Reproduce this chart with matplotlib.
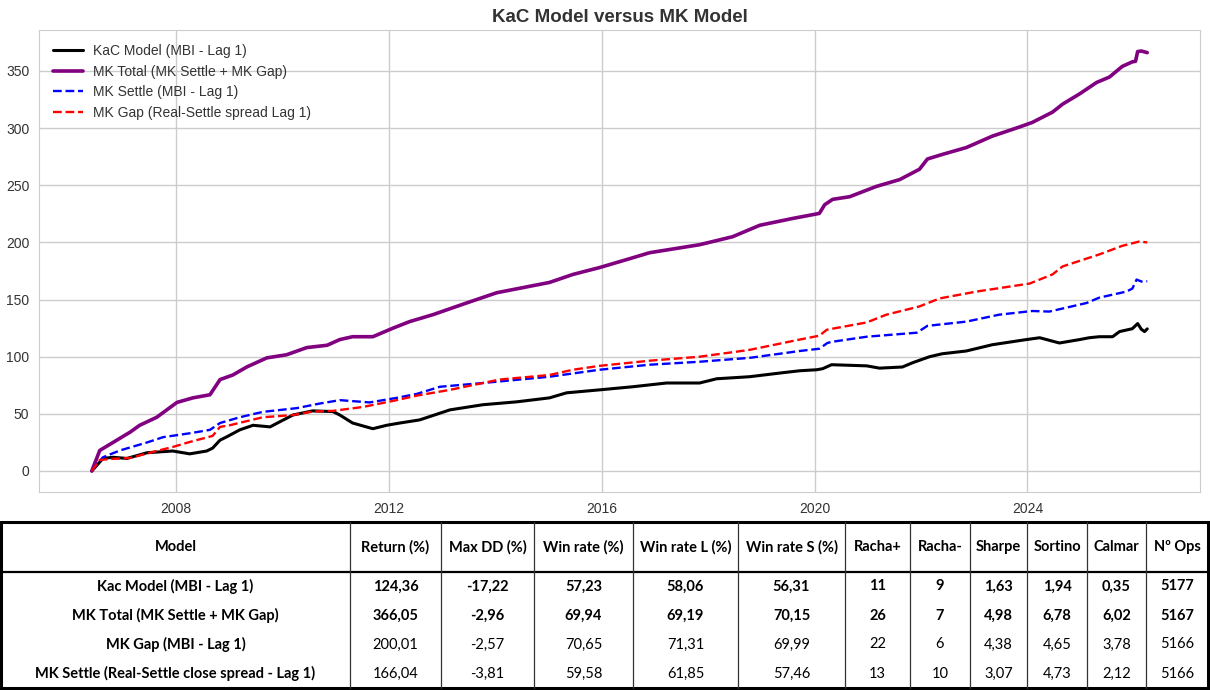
import matplotlib
matplotlib.use("Agg")
import matplotlib.pyplot as plt
import seaborn as sns

sns.set_style("whitegrid")
plt.rcParams['font.family'] = ['Liberation Sans', 'DejaVu Sans']

# ---------------- data ----------------
kac_x = [2006.42, 2006.44, 2006.63, 2006.82, 2007.08, 2007.46, 2007.94, 2008.26, 2008.58, 2008.69,
         2008.83, 2008.96, 2009.20, 2009.45, 2009.77, 2009.95, 2010.20, 2010.57, 2010.95, 2011.08,
         2011.32, 2011.70, 2011.96, 2012.21, 2012.58, 2013.15, 2013.77, 2014.40, 2015.02, 2015.34,
         2015.96, 2016.58, 2017.22, 2017.84, 2018.16, 2018.78, 2019.40, 2019.72, 2020.04, 2020.15,
         2020.32, 2020.98, 2021.22, 2021.65, 2021.84, 2022.16, 2022.40, 2022.85, 2023.34, 2023.98,
         2024.23, 2024.60, 2024.98, 2025.16, 2025.35, 2025.60, 2025.73, 2025.97, 2026.07, 2026.14,
         2026.20, 2026.25]
kac_y = [0.0, 1.0, 11.0, 12.0, 11.0, 16.0, 17.5, 15.0, 17.5, 20.0,
         27.0, 30.0, 36.0, 40.0, 38.6, 43.0, 49.0, 52.6, 52.0, 49.0,
         42.0, 37.0, 40.0, 42.0, 44.7, 53.5, 58.0, 60.5, 64.0, 68.4,
         71.0, 73.7, 77.0, 77.0, 80.7, 82.5, 86.0, 87.7, 88.6, 89.5,
         93.0, 92.0, 90.0, 91.0, 94.7, 100.0, 102.6, 105.0, 110.5, 115.0,
         116.6, 112.0, 115.0, 116.6, 117.5, 117.5, 122.0, 124.5, 129.0, 124.0,
         122.0, 124.36]

tot_x = [2006.42, 2006.57, 2006.82, 2007.14, 2007.32, 2007.64, 2008.02, 2008.32, 2008.64, 2008.83,
         2009.07, 2009.33, 2009.71, 2010.08, 2010.46, 2010.84, 2011.08, 2011.32, 2011.70, 2012.08,
         2012.39, 2012.83, 2013.46, 2014.03, 2015.02, 2015.46, 2015.96, 2016.47, 2016.90, 2017.84,
         2018.46, 2018.97, 2019.59, 2020.09, 2020.19, 2020.34, 2020.66, 2021.16, 2021.60, 2021.97,
         2022.12, 2022.40, 2022.85, 2023.34, 2023.85, 2024.09, 2024.47, 2024.66, 2024.98, 2025.30,
         2025.54, 2025.78, 2025.97, 2026.03, 2026.07, 2026.14, 2026.25]
tot_y = [0.0, 18.0, 25.0, 34.0, 40.0, 47.0, 60.0, 64.0, 66.7, 80.0,
         84.0, 91.0, 99.0, 101.7, 108.0, 110.0, 115.0, 117.5, 117.5, 125.0,
         130.7, 136.8, 147.0, 156.0, 165.0, 172.0, 178.0, 185.0, 191.0, 198.0,
         205.0, 215.0, 221.0, 225.4, 233.0, 237.7, 240.0, 249.0, 255.0, 264.0,
         273.0, 277.0, 283.0, 293.0, 301.0, 305.0, 314.0, 321.0, 330.0, 340.0,
         344.7, 354.0, 358.0, 358.5, 367.0, 367.5, 366.05]

set_x = [2006.42, 2006.63, 2006.95, 2007.46, 2007.76, 2008.26, 2008.64, 2008.83, 2009.20, 2009.63,
         2010.27, 2010.70, 2011.08, 2011.64, 2012.15, 2012.53, 2012.96, 2013.77, 2015.02, 2015.96,
         2016.90, 2017.84, 2018.78, 2019.72, 2020.09, 2020.24, 2020.32, 2020.98, 2021.92, 2022.12,
         2022.85, 2023.47, 2024.09, 2024.41, 2025.11, 2025.35, 2025.86, 2025.97, 2026.05, 2026.14,
         2026.25]
set_y = [0.0, 12.0, 18.0, 25.0, 29.6, 33.0, 36.0, 42.0, 47.0, 51.7,
         55.0, 59.0, 62.0, 60.0, 64.0, 67.5, 73.7, 77.0, 82.5, 88.6,
         93.0, 95.6, 99.0, 105.0, 107.0, 112.0, 113.0, 117.5, 121.0, 127.0,
         130.7, 136.8, 140.0, 139.5, 147.0, 151.7, 157.0, 159.6, 167.5, 165.8,
         166.04]

gap_x = [2006.42, 2006.57, 2006.76, 2007.14, 2007.57, 2007.94, 2008.26, 2008.69, 2008.83, 2009.01,
         2009.63, 2010.20, 2010.57, 2010.95, 2011.51, 2012.15, 2012.53, 2013.15, 2014.08, 2015.02,
         2015.46, 2015.96, 2016.90, 2017.84, 2018.78, 2019.72, 2020.09, 2020.23, 2020.98, 2021.35,
         2021.97, 2022.35, 2023.04, 2024.04, 2024.47, 2024.66, 2025.35, 2025.78, 2026.10, 2026.25]
gap_y = [0.0, 9.6, 10.5, 11.4, 16.7, 21.0, 25.4, 30.7, 38.6, 40.0,
         47.0, 49.0, 52.0, 52.6, 56.0, 62.0, 66.0, 71.0, 80.0, 84.0,
         88.6, 92.0, 96.5, 100.0, 106.0, 115.0, 118.4, 123.6, 130.0, 136.8,
         144.0, 151.0, 157.0, 164.0, 172.0, 179.0, 189.5, 197.0, 200.8, 200.01]

series_labels = ["KaC Model (MBI - Lag 1)", "MK Total (MK Settle + MK Gap)",
                 "MK Settle (MBI - Lag 1)", "MK Gap (Real-Settle spread Lag 1)"]
year_ticks = [2008, 2012, 2016, 2020, 2024]
value_ticks = [0, 50, 100, 150, 200, 250, 300, 350]

table_columns = ["Model", "Return (%)", "Max DD (%)", "Win rate (%)", "Win rate L (%)",
                 "Win rate S (%)", "Racha+", "Racha-", "Sharpe", "Sortino", "Calmar", "Nº Ops"]
table_models = ["Kac Model (MBI - Lag 1)", "MK Total (MK Settle + MK Gap)",
                "MK Gap (MBI - Lag 1)", "MK Settle (Real-Settle close spread - Lag 1)"]
ret = [124.36, 366.05, 200.01, 166.04]
maxdd = [-17.22, -2.96, -2.57, -3.81]
winrate = [57.23, 69.94, 70.65, 59.58]
winrate_l = [58.06, 69.19, 71.31, 61.85]
winrate_s = [56.31, 70.15, 69.99, 57.46]
racha_pos = [11, 26, 22, 13]
racha_neg = [9, 7, 6, 10]
sharpe = [1.63, 4.98, 4.38, 3.07]
sortino = [1.94, 6.78, 4.65, 4.73]
calmar = [0.35, 6.02, 3.78, 2.12]
n_ops = [5177, 5167, 5166, 5166]
bold_rows = [True, True, False, False]

# ---------------- figure ----------------
W, H = 1210, 690
fig = plt.figure(figsize=(W / 100, H / 100), dpi=100)

ax = fig.add_axes([39 / W, 1 - 492 / H, (1200 - 39) / W, (492 - 30) / H])
ax.plot(kac_x, kac_y, color="black", lw=2.2, label=series_labels[0])
ax.plot(tot_x, tot_y, color="purple", lw=2.6, label=series_labels[1])
ax.plot(set_x, set_y, color="blue", lw=1.7, ls="--", label=series_labels[2])
ax.plot(gap_x, gap_y, color="red", lw=1.7, ls="--", label=series_labels[3])
ax.set_xticks(year_ticks)
ax.set_xticklabels([str(y) for y in year_ticks])
ax.set_yticks(value_ticks)
ax.tick_params(labelsize=10, colors="#333333")
for s in ax.spines.values():
    s.set_color("#cccccc")
ax.grid(True, color="#cccccc", lw=1)
ax.set_title("KaC Model versus MK Model", fontsize=13.5, fontweight="bold", color="#333333", pad=6)
leg = ax.legend(loc="upper left", frameon=False, fontsize=10, handlelength=2.2,
                handletextpad=0.7, labelspacing=0.48, borderaxespad=0.6)
for t in leg.get_texts():
    t.set_color("#333333")

# ---------------- table ----------------
tax = fig.add_axes([0, 0, 1, 1], facecolor="none")
tax.set_xlim(0, W)
tax.set_ylim(H, 0)
tax.axis("off")

col_edges = [1, 350, 441, 534, 633, 738, 845, 910, 970, 1027, 1087, 1146, 1208]
top, head_bot, bottom = 522, 572, 688
row_h = (bottom - head_bot) / 4
tfont = ["Lato", "Open Sans", "DejaVu Sans"]

tax.plot([col_edges[0], col_edges[-1], col_edges[-1], col_edges[0], col_edges[0]],
         [top, top, bottom, bottom, top], color="black", lw=2.2, solid_joinstyle="miter")
tax.plot([col_edges[0], col_edges[-1]], [head_bot, head_bot], color="black", lw=1.6)
for xe in col_edges[1:-1]:
    tax.plot([xe, xe], [top, bottom], color="#333333", lw=0.9)

def fmt(v):
    return f"{v:.2f}".replace(".", ",")

for j, c in enumerate(table_columns):
    cx = (col_edges[j] + col_edges[j + 1]) / 2
    tax.text(cx, (top + head_bot) / 2, c, ha="center", va="center", fontsize=10.5,
             fontweight="bold", family=tfont, color="black")

for i in range(4):
    cy = head_bot + row_h * (i + 0.5)
    vals = [table_models[i], fmt(ret[i]), fmt(maxdd[i]), fmt(winrate[i]), fmt(winrate_l[i]),
            fmt(winrate_s[i]), str(racha_pos[i]), str(racha_neg[i]), fmt(sharpe[i]),
            fmt(sortino[i]), fmt(calmar[i]), str(n_ops[i])]
    for j, v in enumerate(vals):
        cx = (col_edges[j] + col_edges[j + 1]) / 2
        w = "bold" if (j == 0 or bold_rows[i]) else "normal"
        tax.text(cx, cy, v, ha="center", va="center", fontsize=10.5, fontweight=w,
                 family=tfont, color="black")

fig.savefig("out.png", dpi=100)
